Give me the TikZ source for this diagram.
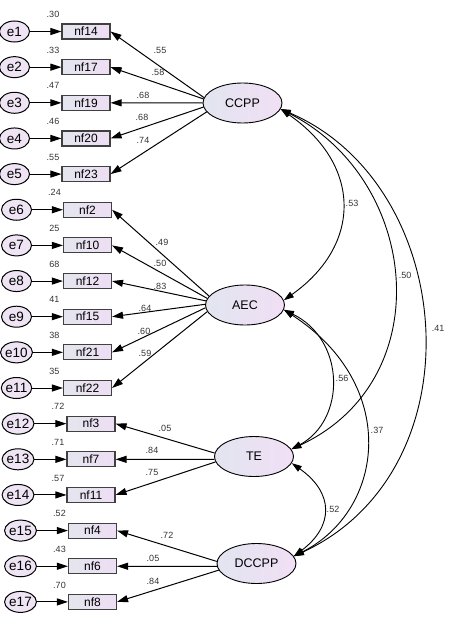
\documentclass[tikz,border=0pt]{standalone}
\usepackage{fontspec}
\setmainfont{Liberation Sans}
\usetikzlibrary{shapes.geometric, arrows.meta}

\definecolor{latleft}{RGB}{226,229,240}
\definecolor{latright}{RGB}{241,223,245}
\definecolor{boxleft}{RGB}{228,229,238}
\definecolor{boxright}{RGB}{238,222,244}
\definecolor{errfill}{RGB}{238,228,244}

\begin{document}
\begin{tikzpicture}[x=1pt, y=-1pt,
    latent/.style={draw, line width=0.9pt, ellipse, minimum width=79pt, minimum height=40pt, inner sep=0pt, left color=latleft, right color=latright, font=\fontsize{12.5}{13}\selectfont},
    resid/.style={draw, line width=1pt, ellipse, minimum width=30pt, minimum height=21pt, inner sep=0pt, fill=errfill, font=\fontsize{13.5}{14}\selectfont},
    item/.style={draw=black!75, line width=1.1pt, rectangle, minimum width=48pt, minimum height=15pt, inner sep=0pt, left color=boxleft, right color=boxright, font=\fontsize{12}{12}\selectfont},
    est/.style={font=\fontsize{9}{9}\selectfont, text=black!80, inner sep=0pt},
    load/.style={line width=1pt, -{Triangle[length=11pt,width=7pt]}},
    cov/.style={line width=0.9pt, {Triangle[length=10pt,width=6.5pt]}-{Triangle[length=10pt,width=6.5pt]}}
]
\useasboundingbox (0,0) rectangle (451,618);

% latent factors
\node[latent] (CCPP) at (242.5,103) {CCPP};
\node[latent] (AEC) at (245,305) {AEC};
\node[latent] (TE) at (254,456.5) {TE};
\node[latent] (DCCPP) at (256.5,563.5) {DCCPP};

% residuals, items, loadings
\foreach \row/\nf/\vr/\ld/\ang/\lat/\xe/\xb/\lx/\ly in {
    1/nf14/.30/.55/172/CCPP/14.5/86/160/50,
    2/nf17/.33/.58/174/CCPP/14.5/86/158/72,
    3/nf19/.47/.68/180/CCPP/14.5/86/143/95,
    4/nf20/.46/.68/186/CCPP/14.5/86/142/117,
    5/nf23/.55/.74/194/CCPP/14.5/86/143/140,
    6/nf2/.24/.49/166/AEC/16.5/87.5/162/242,
    7/nf10/25/.50/170/AEC/16.5/87.5/160/263,
    8/nf12/68/.83/174/AEC/16.5/87.5/160/286,
    9/nf15/41/.64/179/AEC/16.5/87.5/145/308,
    10/nf21/38/.60/184/AEC/16.5/87.5/144/331,
    11/nf22/35/.59/190/AEC/16.5/87.5/145/353,
    12/nf3/.72/.05/175/TE/18/91/165/428,
    13/nf7/.71/.84/184/TE/18/91/152/450,
    14/nf11/.57/.75/188/TE/18/91/152/472,
    15/nf4/.52/.72/177/DCCPP/20.5/92.5/167/535,
    16/nf6/.43/.05/184/DCCPP/20.5/92.5/153/558,
    17/nf8/.70/.84/190/DCCPP/20.5/92.5/153/581}
{
    \pgfmathsetmacro\y{31.5+35.65*(\row-1)}
    \node[resid] (e\row) at (\xe,\y) {e\row};
    \node[item] (\nf) at (\xb,\y) {\nf};
    \draw[load] (e\row) -- (\nf);
    \draw[load] (\lat.\ang) -- (\nf.east);
    \node[est] (v\row) at (\xb-33,\y-17) {\vr};
    \node[est] (l\row) at (\lx,\ly) {\ld};
}

% covariances
\draw[cov] (CCPP.-9) .. controls (362,165) and (362,245) .. (AEC.7);
\draw[cov] (CCPP.-9) .. controls (420,180) and (440,380) .. (TE.11);
\draw[cov] (CCPP.-9) .. controls (458,185) and (480,470) .. (DCCPP.11);
\draw[cov] (AEC.-7) .. controls (346,340) and (346,420) .. (TE.11);
\draw[cov] (AEC.-7) .. controls (400,385) and (385,510) .. (DCCPP.11);
\draw[cov] (TE.-10) .. controls (334,493) and (334,526) .. (DCCPP.11);

\node[est] (c1) at (352,203) {.53};
\node[est] (c2) at (405,275) {.50};
\node[est] (c3) at (438,328) {.41};
\node[est] (c4) at (342,378) {.56};
\node[est] (c5) at (377,430) {.37};
\node[est] (c6) at (333,509) {.52};

\end{tikzpicture}
\end{document}
